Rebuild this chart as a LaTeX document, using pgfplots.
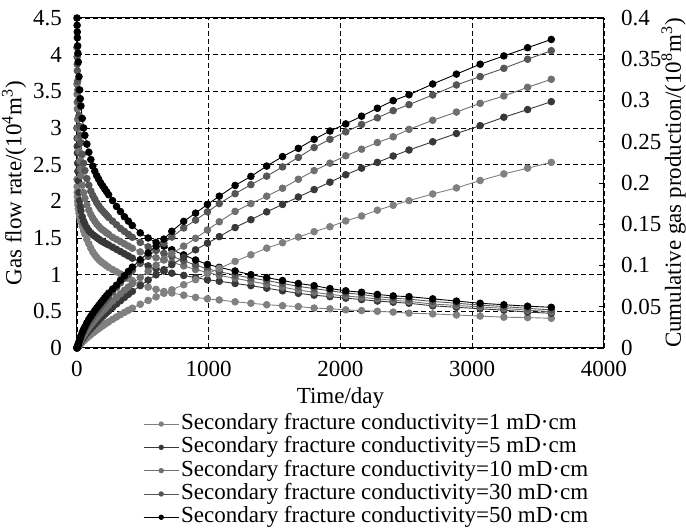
\documentclass[border=0pt]{standalone}
\usepackage{fontspec}
\setmainfont{Liberation Serif}
\usepackage{pgfplots}
\usepackage{pgfplotstable}
\pgfplotsset{compat=1.18}
\definecolor{c1}{HTML}{808080}
\definecolor{c5}{HTML}{383838}
\definecolor{c10}{HTML}{707070}
\definecolor{c30}{HTML}{555555}
\definecolor{c50}{HTML}{000000}
\pgfplotstableread{
t f1 f5 f10 f30 f50 c1 c5 c10 c30 c50
0 2.30 3.00 3.60 4.10 4.50 0 0 0 0 0
1 2.20 2.86 3.46 3.97 4.40 0.0002 0.0003 0.00035 0.0004 0.0005
2 2.12 2.75 3.35 3.87 4.31 0.0004 0.0006 0.0007 0.0009 0.0010
3 2.06 2.66 3.26 3.78 4.23 0.0006 0.0009 0.0010 0.0013 0.0015
5 2.00 2.52 3.12 3.64 4.12 0.0010 0.0014 0.0017 0.0021 0.0025
7 1.95 2.41 3.00 3.52 4.02 0.0014 0.0020 0.0024 0.0030 0.0035
10 1.90 2.28 2.86 3.37 3.90 0.0019 0.0028 0.0033 0.0043 0.0050
15 1.84 2.12 2.68 3.17 3.70 0.0028 0.0041 0.0049 0.0064 0.0075
20 1.79 2.01 2.55 3.02 3.52 0.0037 0.0054 0.0065 0.0085 0.0100
25 1.75 1.93 2.44 2.90 3.40 0.0046 0.0067 0.0081 0.0107 0.0125
30 1.72 1.87 2.35 2.80 3.30 0.0054 0.0080 0.0097 0.0128 0.0150
40 1.66 1.79 2.22 2.64 3.13 0.0070 0.0105 0.0127 0.0165 0.0190
50 1.60 1.73 2.12 2.52 3.00 0.0086 0.0128 0.0153 0.0198 0.0225
60 1.55 1.69 2.04 2.42 2.90 0.0101 0.0150 0.0178 0.0228 0.0258
75 1.48 1.64 1.95 2.31 2.78 0.0122 0.0180 0.0214 0.0270 0.0305
90 1.42 1.60 1.88 2.22 2.67 0.0143 0.0208 0.0248 0.0310 0.0348
105 1.36 1.57 1.82 2.14 2.57 0.0163 0.0235 0.0281 0.0345 0.0385
120 1.31 1.545 1.77 2.08 2.48 0.0182 0.0261 0.0312 0.0380 0.0420
135 1.27 1.525 1.73 2.03 2.41 0.0200 0.0287 0.0342 0.0415 0.0455
150 1.235 1.505 1.69 1.98 2.35 0.0218 0.0312 0.0370 0.0445 0.0487
165 1.205 1.485 1.66 1.94 2.30 0.0236 0.0336 0.0397 0.0475 0.0517
180 1.18 1.465 1.63 1.90 2.25 0.0253 0.0360 0.0423 0.0505 0.0547
195 1.16 1.45 1.61 1.87 2.21 0.0270 0.0383 0.0448 0.0535 0.0577
210 1.14 1.435 1.59 1.84 2.17 0.0286 0.0406 0.0473 0.0565 0.0607
225 1.12 1.42 1.57 1.81 2.13 0.0302 0.0428 0.0497 0.0595 0.0636
240 1.10 1.405 1.55 1.78 2.09 0.0317 0.0450 0.0521 0.0625 0.0665
270 1.07 1.375 1.51 1.73 2.01 0.0347 0.0492 0.0568 0.0680 0.0715
300 1.04 1.345 1.48 1.68 1.93 0.0376 0.0533 0.0613 0.0735 0.0762
330 1.01 1.315 1.45 1.63 1.86 0.0404 0.0573 0.0657 0.0790 0.0820
360 0.98 1.285 1.42 1.59 1.79 0.0431 0.0612 0.0700 0.0845 0.0875
390 0.95 1.255 1.39 1.55 1.73 0.0457 0.0650 0.0740 0.0890 0.0928
420 0.92 1.225 1.36 1.51 1.67 0.0482 0.0686 0.0780 0.0940 0.0980
480 0.87 1.17 1.31 1.44 1.57 0.0530 0.0756 0.0855 0.1025 0.1070
540 0.83 1.12 1.27 1.38 1.50 0.0576 0.0823 0.0930 0.1110 0.1152
600 0.80 1.08 1.23 1.33 1.44 0.0620 0.0887 0.1003 0.1190 0.1235
660 0.77 1.05 1.20 1.29 1.39 0.0663 0.0950 0.1075 0.1270 0.1320
720 0.75 1.02 1.17 1.25 1.34 0.0705 0.1010 0.1145 0.1345 0.1415
810 0.72 0.99 1.12 1.19 1.27 0.0767 0.1100 0.1235 0.1455 0.1535
900 0.69 0.96 1.07 1.13 1.20 0.0828 0.1190 0.1330 0.1550 0.1635
990 0.67 0.93 1.03 1.08 1.14 0.0900 0.1270 0.1430 0.1650 0.1740
1080 0.655 0.91 0.99 1.04 1.10 0.0965 0.1350 0.1530 0.1750 0.1840
1200 0.63 0.88 0.95 0.995 1.05 0.1050 0.1460 0.1655 0.1870 0.1970
1320 0.61 0.85 0.91 0.955 1.00 0.1130 0.1555 0.1750 0.1980 0.2080
1440 0.59 0.815 0.87 0.92 0.96 0.1210 0.1650 0.1840 0.2083 0.2205
1560 0.577 0.78 0.83 0.88 0.92 0.1276 0.1740 0.1936 0.2195 0.2320
1680 0.565 0.745 0.79 0.84 0.88 0.1345 0.1830 0.2045 0.2310 0.2420
1800 0.545 0.72 0.76 0.81 0.85 0.1410 0.1920 0.2150 0.2430 0.2530
1920 0.535 0.70 0.73 0.78 0.81 0.1470 0.2010 0.2240 0.2530 0.2630
2040 0.52 0.68 0.71 0.75 0.78 0.1540 0.2100 0.2330 0.2620 0.2716
2160 0.51 0.66 0.69 0.73 0.76 0.1600 0.2180 0.2410 0.2710 0.2810
2280 0.50 0.64 0.67 0.70 0.73 0.1670 0.2250 0.2490 0.2790 0.2906
2400 0.49 0.625 0.65 0.68 0.71 0.1730 0.2327 0.2560 0.2877 0.2998
2520 0.475 0.61 0.635 0.665 0.70 0.1786 0.2400 0.2650 0.2950 0.3070
2700 0.465 0.575 0.60 0.635 0.67 0.1867 0.2500 0.2760 0.3067 0.3200
2880 0.45 0.555 0.58 0.61 0.64 0.1940 0.2600 0.2860 0.3188 0.3320
3060 0.435 0.535 0.56 0.585 0.61 0.2030 0.2695 0.2966 0.3290 0.3440
3240 0.42 0.515 0.54 0.565 0.59 0.2110 0.2797 0.3055 0.3390 0.3540
3420 0.415 0.49 0.515 0.54 0.57 0.2180 0.2890 0.3160 0.3500 0.3640
3600 0.405 0.473 0.495 0.52 0.555 0.2250 0.2986 0.3257 0.3604 0.3740
}\data
\pgfplotsset{
  ser/.style={color=#1, mark=*, mark size=1.65pt, line width=0.45pt, mark options={solid, fill=#1}},
  common/.style={
    scale only axis, width=263.5pt, height=165pt,
    xmin=0, xmax=4000,
    axis line style={line width=0.5pt, black},
    tick style={black, line width=0.45pt},
    major tick length=2.5pt,
    tick align=inside,
    tick label style={font=\fontsize{11.5}{13.8}\selectfont},
    /pgf/number format/assume math mode=true,
    /pgf/number format/1000 sep={},
  }
}
\begin{document}
\begin{tikzpicture}[font=\fontsize{11.5}{13.8}\selectfont]
\useasboundingbox (-38.5pt,-90pt) rectangle (304.5pt,174pt);
\begin{axis}[common,
  ymin=0, ymax=4.5,
  xtick={0,1000,2000,3000,4000},
  ytick={0,0.5,1,1.5,2,2.5,3,3.5,4,4.5},
  ytick pos=left, xtick pos=bottom,
  grid=major,
  grid style={black, dash pattern=on 2.5pt off 1.5pt, line width=0.45pt},
  xticklabel style={yshift=-3pt},
  yticklabel style={xshift=-4pt},
  xlabel={Time/day},
  ylabel={Gas flow rate/(10\textsuperscript{4}m\textsuperscript{3})},
  xlabel style={at={(axis description cs:0.5,-0.1515)}, anchor=center},
  ylabel style={at={(axis description cs:-0.1195,0.5)}, anchor=center},
]
\addplot[ser=c1] table[x=t, y=f1] {\data};
\addplot[ser=c5] table[x=t, y=f5] {\data};
\addplot[ser=c10] table[x=t, y=f10] {\data};
\addplot[ser=c30] table[x=t, y=f30] {\data};
\addplot[ser=c50] table[x=t, y=f50] {\data};
\end{axis}
\begin{axis}[common,
  ymin=0, ymax=0.4,
  axis y line*=right, axis x line=none,
  ytick={0,0.05,0.1,0.15,0.2,0.25,0.3,0.35,0.4},
  yticklabels={0,0.05,0.1,0.15,0.2,0.25,0.3,0.35,0.4},
  yticklabel style={xshift=5pt},
  ylabel={Cumulative gas production/(10\textsuperscript{8}m\textsuperscript{3})},
  ylabel style={at={(axis description cs:1.146,0.5)}, anchor=base, rotate=0, inner sep=0pt},
  legend cell align=left,
  legend style={at={(axis description cs:0.125,-0.194)}, anchor=north west,
    draw=none, fill=none, inner sep=0pt, row sep=0pt,
    nodes={inner xsep=1pt, inner ysep=0.8pt, text height=7.8pt, text depth=2.25pt}},
  legend image code/.code={
    \draw[mark repeat=2, mark phase=2, #1, mark size=1.1pt] plot coordinates {(0pt,0pt) (8.75pt,0pt) (17.5pt,0pt)};
  },
]
\addplot[ser=c1] table[x=t, y=c1] {\data};
\addlegendentry{Secondary fracture conductivity=1 mD·cm}
\addplot[ser=c5] table[x=t, y=c5] {\data};
\addlegendentry{Secondary fracture conductivity=5 mD·cm}
\addplot[ser=c10] table[x=t, y=c10] {\data};
\addlegendentry{Secondary fracture conductivity=10 mD·cm}
\addplot[ser=c30] table[x=t, y=c30] {\data};
\addlegendentry{Secondary fracture conductivity=30 mD·cm}
\addplot[ser=c50] table[x=t, y=c50] {\data};
\addlegendentry{Secondary fracture conductivity=50 mD·cm}
\end{axis}
\end{tikzpicture}
\end{document}
